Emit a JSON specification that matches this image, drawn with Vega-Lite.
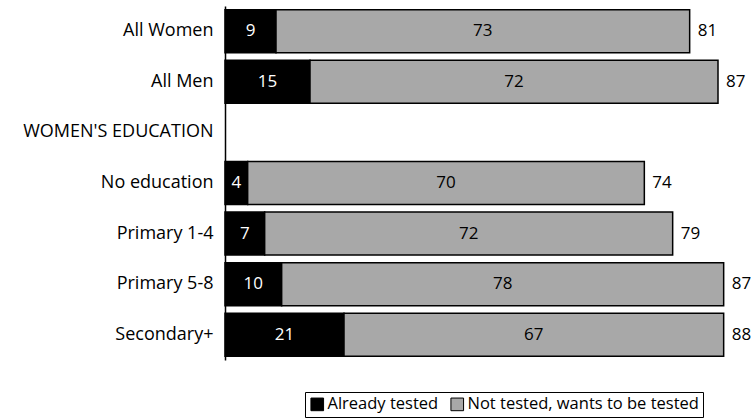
{
  "$schema": "https://vega.github.io/schema/vega-lite/v6.json",
  "autosize": {"type": "none"},
  "padding": {"left": 225, "top": 6, "right": 19, "bottom": 59},
  "width": 510,
  "height": 354,
  "background": "white",
  "data": {
    "values": [
      {"group": "All Women", "status": "Already tested", "value": 9, "total": 81},
      {"group": "All Women", "status": "Not tested, wants to be tested", "value": 73, "total": 81},
      {"group": "All Men", "status": "Already tested", "value": 15, "total": 87},
      {"group": "All Men", "status": "Not tested, wants to be tested", "value": 72, "total": 87},
      {"group": "No education", "status": "Already tested", "value": 4, "total": 74},
      {"group": "No education", "status": "Not tested, wants to be tested", "value": 70, "total": 74},
      {"group": "Primary 1-4", "status": "Already tested", "value": 7, "total": 79},
      {"group": "Primary 1-4", "status": "Not tested, wants to be tested", "value": 72, "total": 79},
      {"group": "Primary 5-8", "status": "Already tested", "value": 10, "total": 87},
      {"group": "Primary 5-8", "status": "Not tested, wants to be tested", "value": 78, "total": 87},
      {"group": "Secondary+", "status": "Already tested", "value": 21, "total": 88},
      {"group": "Secondary+", "status": "Not tested, wants to be tested", "value": 67, "total": 88}
    ]
  },
  "transform": [
    {
      "stack": "value",
      "groupby": ["group"],
      "sort": [{"field": "status", "order": "ascending"}],
      "as": ["v0", "v1"]
    }
  ],
  "encoding": {
    "y": {
      "field": "group",
      "type": "nominal",
      "scale": {
        "domain": ["All Women", "All Men", "WOMEN'S EDUCATION", "No education", "Primary 1-4", "Primary 5-8", "Secondary+"],
        "paddingInner": 0.15,
        "paddingOuter": 0.075
      },
      "axis": {
        "title": null,
        "ticks": false,
        "domainColor": "black",
        "domainWidth": 1.5,
        "labelFont": "Open Sans",
        "labelFontSize": 18,
        "labelColor": "black",
        "labelPadding": 12,
        "labelLimit": 0
      }
    }
  },
  "layer": [
    {
      "mark": {"type": "bar", "stroke": "black", "strokeWidth": 1.5},
      "encoding": {
        "x": {"field": "v0", "type": "quantitative", "scale": {"domain": [0, 90]}, "axis": null},
        "x2": {"field": "v1"},
        "color": {
          "field": "status",
          "type": "nominal",
          "scale": {
            "domain": ["Already tested", "Not tested, wants to be tested"],
            "range": ["#000000", "#a8a8a8"]
          },
          "legend": {
            "title": null,
            "orient": "none",
            "legendX": 80,
            "legendY": 386,
            "direction": "horizontal",
            "strokeColor": "black",
            "padding": 4,
            "symbolType": "square",
            "symbolSize": 160,
            "symbolStrokeColor": "black",
            "symbolStrokeWidth": 1,
            "labelFont": "Open Sans",
            "labelFontSize": 16.5,
            "labelColor": "black",
            "labelOffset": 2,
            "labelLimit": 0,
            "columnPadding": 9
          }
        }
      }
    },
    {
      "transform": [
        {"fold": ["v0", "v1"], "as": ["edge", "pos"]},
        {"aggregate": [{"op": "mean", "field": "pos", "as": "mid"}], "groupby": ["group", "status", "value"]}
      ],
      "mark": {"type": "text", "font": "Open Sans", "fontSize": 17, "baseline": "middle", "align": "center"},
      "encoding": {
        "x": {"field": "mid", "type": "quantitative"},
        "text": {"field": "value", "type": "quantitative"},
        "color": {
          "condition": {"test": "datum.status === 'Already tested'", "value": "white"},
          "value": "black"
        }
      }
    },
    {
      "transform": [{"filter": "datum.status !== 'Already tested'"}],
      "mark": {"type": "text", "font": "Open Sans", "fontSize": 17, "baseline": "middle", "align": "left", "dx": 8, "color": "black"},
      "encoding": {
        "x": {"field": "v1", "type": "quantitative"},
        "text": {"field": "total", "type": "quantitative"}
      }
    }
  ],
  "config": {"view": {"stroke": null}}
}
